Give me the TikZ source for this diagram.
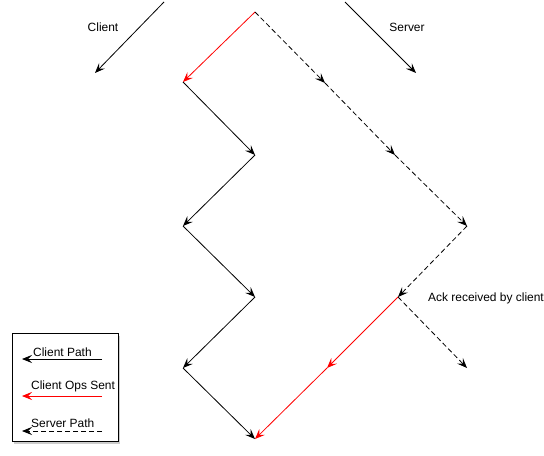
\documentclass[tikz,border=0pt]{standalone}
\usepackage{fontspec}
\setmainfont{Liberation Sans}
\usetikzlibrary{arrows.meta,shadows}
\begin{document}
\begin{tikzpicture}[x=1bp,y=-1bp,
  conn/.style={line width=0.8bp,-{Stealth[length=10bp,width=8bp,inset=4bp]}},
  clientpath/.style={conn,black},
  opsent/.style={conn,red},
  serverpath/.style={conn,black,dash pattern=on 5bp off 3bp},
  lbl/.style={font=\fontsize{12}{14}\selectfont,inner sep=0pt},
  legendbox/.style={draw=black,line width=0.8bp,fill=white,drop shadow={opacity=0.4,shadow xshift=2bp,shadow yshift=-3bp}}
]
\useasboundingbox (0,0) rectangle (544,456);
% header arrows
\coordinate (cs) at (164,2);
\coordinate (ce) at (95,73);
\coordinate (ss) at (345,2);
\coordinate (se) at (416,73);
\draw[clientpath] (cs) -- (ce);
\draw[clientpath] (ss) -- (se);
\node[lbl] (clientlbl) at (103,27) {Client};
\node[lbl] (serverlbl) at (407,27) {Server};
% vertices
\coordinate (top) at (255,12);
\coordinate (c1) at (183,82);
\coordinate (c2) at (255,155);
\coordinate (c3) at (183,226);
\coordinate (c4) at (255,297);
\coordinate (c5) at (183,368);
\coordinate (c6) at (255,439);
\coordinate (s1) at (325,83);
\coordinate (s2) at (395,155);
\coordinate (s3) at (467,226);
\coordinate (s4) at (398,297);
\coordinate (s5) at (467,368);
\coordinate (r1) at (327,368);
% client path
\draw[opsent] (top) -- (c1);
\draw[clientpath] (c1) -- (c2);
\draw[clientpath] (c2) -- (c3);
\draw[clientpath] (c3) -- (c4);
\draw[clientpath] (c4) -- (c5);
\draw[clientpath] (c5) -- (c6);
% server path
\draw[serverpath] (top) -- (s1);
\draw[serverpath] (s1) -- (s2);
\draw[serverpath] (s2) -- (s3);
\draw[serverpath] (s3) -- (s4);
\draw[serverpath] (s4) -- (s5);
% ops sent
\draw[opsent] (s4) -- (r1);
\draw[opsent] (r1) -- (c6);
\node[lbl,anchor=west] (ack) at (428,298) {Ack received by client};
% legend
\node[legendbox,minimum width=106bp,minimum height=108bp,inner sep=0pt] (legend) at (65,387) {};
\coordinate (l1s) at (102,359);
\coordinate (l1e) at (22,359);
\coordinate (l2s) at (102,396);
\coordinate (l2e) at (22,396);
\coordinate (l3s) at (102,431);
\coordinate (l3e) at (22,431);
\draw[clientpath] (l1s) -- (l1e);
\draw[opsent] (l2s) -- (l2e);
\draw[serverpath] (l3s) -- (l3e);
\node[lbl,anchor=west] (lt1) at (33,352) {Client Path};
\node[lbl,anchor=west] (lt2) at (31,386) {Client Ops Sent};
\node[lbl,anchor=west] (lt3) at (31,423) {Server Path};
\end{tikzpicture}
\end{document}
